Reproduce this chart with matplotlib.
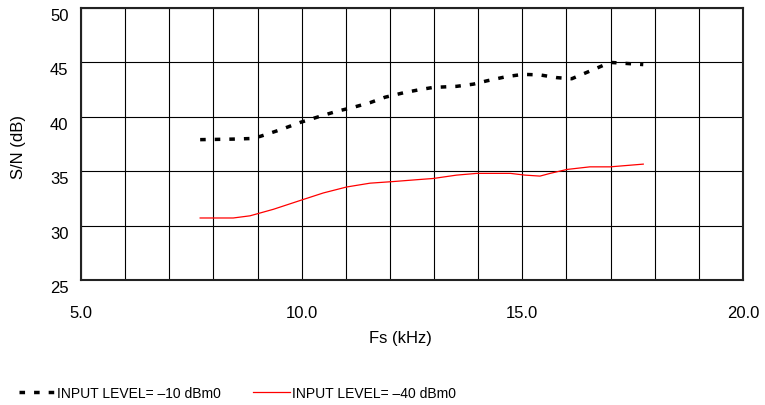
import matplotlib
matplotlib.use("Agg")
import matplotlib.pyplot as plt
import matplotlib.transforms as mtransforms
import numpy as np

plt.rcParams['font.family'] = ['Liberation Sans', 'DejaVu Sans']

# S/N vs sampling frequency
fs_hi = [7.70, 8.45, 8.83, 9.06, 9.51, 9.98, 10.38, 10.79, 11.15, 11.55, 11.89, 12.30, 12.68,
         12.98, 13.51, 13.89, 14.19, 14.65, 15.02, 15.40, 15.78, 16.12, 16.53, 16.99, 17.37, 17.74]
sn_hi = [37.9, 37.95, 38.0, 38.2, 38.8, 39.5, 40.0, 40.5, 40.85, 41.3, 41.8, 42.2, 42.5,
         42.7, 42.8, 43.0, 43.3, 43.7, 43.9, 43.85, 43.6, 43.5, 44.2, 45.0, 44.9, 44.8]

fs_lo = [7.70, 8.45, 8.83, 9.36, 9.96, 10.49, 11.02, 11.55, 12.08, 12.68, 12.98, 13.51, 13.97,
         14.73, 15.06, 15.40, 15.63, 16.01, 16.53, 16.99, 17.74]
sn_lo = [30.7, 30.7, 30.9, 31.5, 32.3, 33.0, 33.55, 33.9, 34.05, 34.24, 34.33, 34.64, 34.8,
         34.8, 34.64, 34.55, 34.8, 35.16, 35.4, 35.4, 35.65]

labels = ["INPUT LEVEL= \u201310 dBm0", "INPUT LEVEL= \u201340 dBm0"]
x_ticks = [5.0, 10.0, 15.0, 20.0]
y_ticks = [25, 30, 35, 40, 45, 50]

fig = plt.figure(figsize=(7.65, 4.06), dpi=100)
ax = fig.add_axes([81/765, 1-281/406, 662/765, 272/406])

ax.plot(fs_hi, sn_hi, color='black', lw=2.5, linestyle=(0, (1.6, 2.6)), label=labels[0])
ax.plot(fs_lo, sn_lo, color='#ff0000', lw=0.9, label=labels[1])

ax.set_xlim(5, 20)
ax.set_ylim(25, 50)
ax.set_xticks(x_ticks)
ax.set_xticklabels(["%.1f" % v for v in x_ticks])
ax.set_xticks(np.arange(5, 21, 1), minor=True)
ax.set_yticks(y_ticks)
ax.grid(True, which='both', color='black', lw=0.8)
ax.set_axisbelow(True)
ax.tick_params(which='both', length=0, labelsize=12)
ax.tick_params(axis='x', pad=18)
ax.tick_params(axis='y', pad=9)
for s in ax.spines.values():
    s.set_linewidth(1.5)
    s.set_color('#222222')

# y labels sit a little below their gridlines
off = mtransforms.ScaledTranslation(0, -6/100, fig.dpi_scale_trans)
for lab in ax.get_yticklabels():
    lab.set_transform(lab.get_transform() + off)

ax.set_xlabel("Fs (kHz)", fontsize=12)
ax.xaxis.set_label_coords(0.482, -0.21)
ax.xaxis.label.set_va('center')
ax.set_ylabel("S/N (dB)", fontsize=12)
ax.yaxis.set_label_coords(-0.095, 0.493)
ax.yaxis.label.set_va('center')

# legend text in the original is condensed; a smaller size keeps the widths close
leg = fig.legend(loc='center left', bbox_to_anchor=(6/765, 1-394/406), ncol=2,
                 frameon=False, fontsize=10, handlelength=2.65, handletextpad=0.15,
                 columnspacing=2.3)

fig.savefig("out.png", dpi=100)
